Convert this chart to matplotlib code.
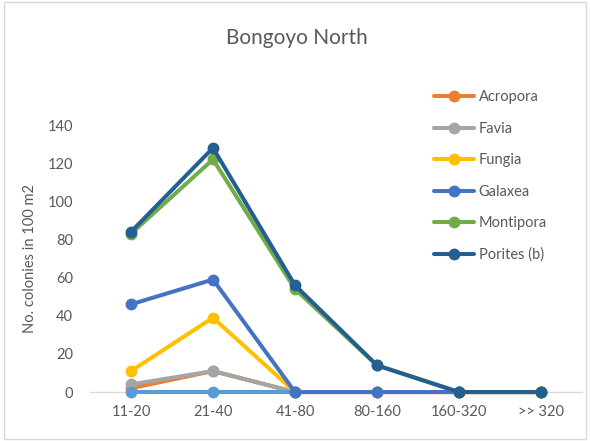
import numpy as np
import matplotlib.pyplot as plt
from matplotlib.patches import Rectangle

plt.rcParams['font.family'] = ['Lato', 'DejaVu Sans']

size_classes = ['11-20', '21-40', '41-80', '80-160', '160-320', '>> 320']
acropora = [2, 11, 0, 0, 0, 0]
favia = [4, 11, 0, 0, 0, 0]
fungia = [11, 39, 0, 0, 0, 0]
galaxea = [46, 59, 0, 0, 0, 0]
montipora = [83, 122, 54, 14, 0, 0]
porites = [84, 128, 56, 14, 0, 0]
other = [0, 0, 0, np.nan, np.nan, np.nan]

series = [
    ('Acropora', acropora, '#ED7D31'),
    ('Favia', favia, '#A5A5A5'),
    ('Fungia', fungia, '#FFC000'),
    (None, other, '#5B9BD5'),
    ('Galaxea', galaxea, '#4472C4'),
    ('Montipora', montipora, '#70AD47'),
    ('Porites (b)', porites, '#255E91'),
]

fig = plt.figure(figsize=(5.9, 4.41), dpi=100)
ax = fig.add_axes([0.1525, 0.111, 0.834, 0.6054])

x = np.arange(len(size_classes))
for name, vals, col in series:
    ax.plot(x, vals, color=col, lw=2.9, marker='o', ms=7.5,
            label=name if name else '_nolegend_',
            solid_capstyle='round', zorder=3, clip_on=False)

ax.set_xlim(-0.5, 5.5)
ax.set_ylim(0, 140)
ax.set_yticks(range(0, 141, 20))
ax.set_xticks(x)
ax.set_xticklabels(size_classes)
for s in ['top', 'right', 'left']:
    ax.spines[s].set_visible(False)
ax.spines['bottom'].set_color('#D9D9D9')
ax.spines['bottom'].set_linewidth(1)
ax.spines['bottom'].set_zorder(1)
ax.tick_params(axis='both', length=0, labelsize=10.5, colors='#595959')
ax.tick_params(axis='y', pad=12)
ax.tick_params(axis='x', pad=9)
ax.set_ylabel('No. colonies in 100 m2', fontsize=10.5, color='#595959', labelpad=8)
ax.patch.set_alpha(0)

fig.text(0.503, 0.914, 'Bongoyo North', ha='center', va='center',
         fontsize=15, color='#595959')

fig.legend(loc='upper left', bbox_to_anchor=(0.714, 0.825), frameon=False,
           fontsize=10.5, labelcolor='#595959', handlelength=2.7,
           handletextpad=0.35, labelspacing=1.2)

# chart border
fig.patches.append(Rectangle((0.006, 0.005), 0.988, 0.99, transform=fig.transFigure,
                             fill=False, edgecolor='#D9D9D9', lw=1))

fig.savefig('out.png', dpi=100)
